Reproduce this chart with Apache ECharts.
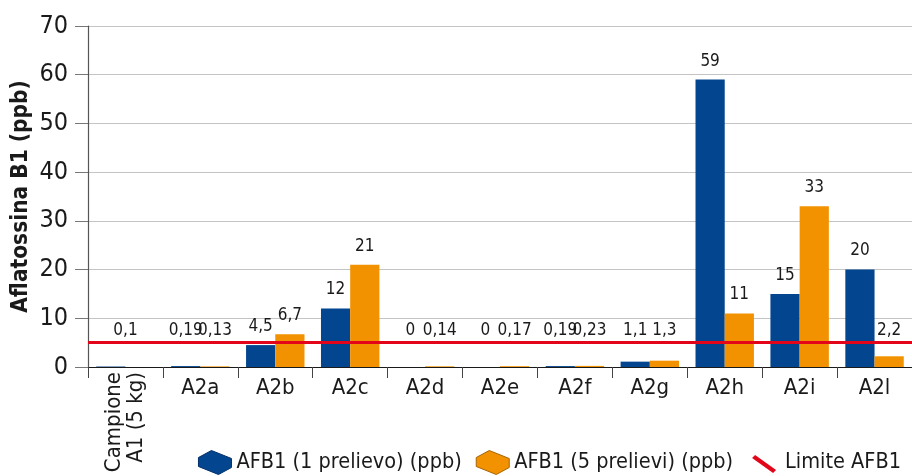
<!DOCTYPE html>
<html>
<head>
<meta charset="utf-8">
<script src="https://cdn.jsdelivr.net/npm/echarts@6/dist/echarts.min.js"></script>
<style>
  html, body { margin: 0; padding: 0; background: #fff; }
  #chart { width: 912px; height: 476px; }
</style>
</head>
<body>
<div id="chart"></div>
<script>
// Aflatoxin B1 levels per sample, single draw vs. five draws, with the legal limit
const categories = ['Campione\nA1 (5 kg)', 'A2a', 'A2b', 'A2c', 'A2d', 'A2e', 'A2f', 'A2g', 'A2h', 'A2i', 'A2l'];
const oneDraw   = [0.1, 0.19, 4.5, 12, 0, 0, 0.19, 1.1, 59, 15, 20];
const fiveDraws = [null, 0.13, 6.7, 21, 0.14, 0.17, 0.23, 1.3, 11, 33, 2.2];
const LIMIT = 5;
const yTicks = { min: 0, max: 70, interval: 10 };

const seriesNames = ['AFB1 (1 prelievo) (ppb)', 'AFB1 (5 prelievi) (ppb)', 'Limite AFB1'];
const BLUE = '#03458f';
const ORANGE = '#f39200';
const RED = '#e3061b';
const FONT = "'DejaVu Sans Condensed', 'Liberation Sans Narrow', 'Roboto', sans-serif";

const chart = echarts.init(document.getElementById('chart'), null, { renderer: 'canvas' });

const fmt = v => (v == null ? '' : String(v).replace('.', ','));
const valueSets = [oneDraw, fiveDraws];

// Keep value labels clear of the limit line; a value without a partner bar is labelled in the middle of its slot
function placeLabel(params) {
  const out = {};
  const r = params.labelRect;
  let limPx;
  try { limPx = chart.convertToPixel({ yAxisIndex: 0 }, LIMIT); } catch (e) { limPx = null; }
  const other = valueSets[1 - params.seriesIndex];
  if (other && other[params.dataIndex] == null) {
    let cx;
    try { cx = chart.convertToPixel({ xAxisIndex: 0 }, categories[params.dataIndex]); } catch (e) { cx = null; }
    if (cx != null && !isNaN(cx)) out.dx = cx - (r.x + r.width / 2);
  }
  if (limPx != null && !isNaN(limPx)) {
    const bottom = r.y + r.height;
    const target = limPx - 4;
    if (bottom > target) out.dy = target - bottom;
  }
  return out;
}

const barLabel = {
  show: true,
  position: 'top',
  distance: 10,
  color: '#1a1a1a',
  fontFamily: FONT,
  fontSize: 17,
  formatter: p => fmt(p.value)
};

// isometric box silhouette for the bar entries, a slanted stroke for the limit line
const boxIcon = 'path://M0,10 L13,3 L33,11 L33,20 L20,27 L0,19 Z';
const lineIcon = 'path://M0,0 M33,27 M5,9 L8,6 L29,21 L26,24 Z';

const option = {
  animation: false,
  textStyle: { fontFamily: FONT },
  grid: { left: 88, right: 0, top: 26, bottom: 109, containLabel: false },
  legend: {
    right: 6,
    top: 444,
    itemWidth: 33,
    itemHeight: 27,
    itemGap: 14,
    textStyle: { fontFamily: FONT, fontSize: 21.5, color: '#1a1a1a' },
    data: [
      { name: seriesNames[0], icon: boxIcon, itemStyle: { borderColor: '#01306a', borderWidth: 1 } },
      { name: seriesNames[1], icon: boxIcon, itemStyle: { borderColor: '#a86400', borderWidth: 1 } },
      { name: seriesNames[2], icon: lineIcon }
    ]
  },
  xAxis: [
    {
      type: 'category',
      data: categories,
      boundaryGap: true,
      axisLine: { show: true, lineStyle: { color: '#1a1a1a', width: 1.2 } },
      axisTick: { show: true, length: 11, lineStyle: { color: '#444' } },
      axisLabel: {
        interval: 0,
        margin: 10,
        color: '#1a1a1a',
        fontFamily: FONT,
        fontSize: 22,
        formatter: (v, i) => (i === 0 ? '' : v)
      },
      splitLine: { show: false }
    },
    {
      // first category name runs vertically under its slot
      type: 'category',
      data: categories,
      position: 'bottom',
      boundaryGap: true,
      axisLine: { show: false },
      axisTick: { show: false },
      splitLine: { show: false },
      axisLabel: {
        interval: 0,
        rotate: 90,
        margin: 5,
        lineHeight: 22,
        color: '#1a1a1a',
        fontFamily: FONT,
        fontSize: 22,
        formatter: (v, i) => (i === 0 ? v : '')
      }
    }
  ],
  yAxis: {
    type: 'value',
    min: yTicks.min,
    max: yTicks.max,
    interval: yTicks.interval,
    name: 'Aflatossina B1 (ppb)',
    nameLocation: 'middle',
    nameGap: 55,
    nameMoveOverlap: false,
    nameTextStyle: { fontFamily: FONT, fontSize: 22.5, fontWeight: 'bold', color: '#1a1a1a' },
    axisLine: { show: true, lineStyle: { color: '#555', width: 1.2 } },
    axisTick: { show: true, length: 13, lineStyle: { color: '#777' } },
    axisLabel: { margin: 20, color: '#1a1a1a', fontFamily: FONT, fontSize: 25 },
    splitLine: { show: true, lineStyle: { color: '#c4c4c4', width: 1.2 } }
  },
  series: [
    {
      name: seriesNames[0],
      type: 'bar',
      data: oneDraw,
      barGap: '0%',
      barCategoryGap: '22%',
      itemStyle: { color: BLUE },
      label: barLabel,
      labelLayout: placeLabel,
      z: 2
    },
    {
      name: seriesNames[1],
      type: 'bar',
      data: fiveDraws,
      barGap: '0%',
      barCategoryGap: '22%',
      itemStyle: { color: ORANGE },
      label: barLabel,
      labelLayout: placeLabel,
      z: 2
    },
    {
      name: seriesNames[2],
      type: 'line',
      data: [],
      itemStyle: { color: RED },
      lineStyle: { color: RED, width: 3 },
      z: 5,
      markLine: {
        silent: true,
        symbol: ['none', 'none'],
        label: { show: false },
        lineStyle: { color: RED, width: 3, type: 'solid' },
        data: [{ yAxis: LIMIT }],
        z: 5
      }
    }
  ]
};

chart.setOption(option);
</script>
</body>
</html>
